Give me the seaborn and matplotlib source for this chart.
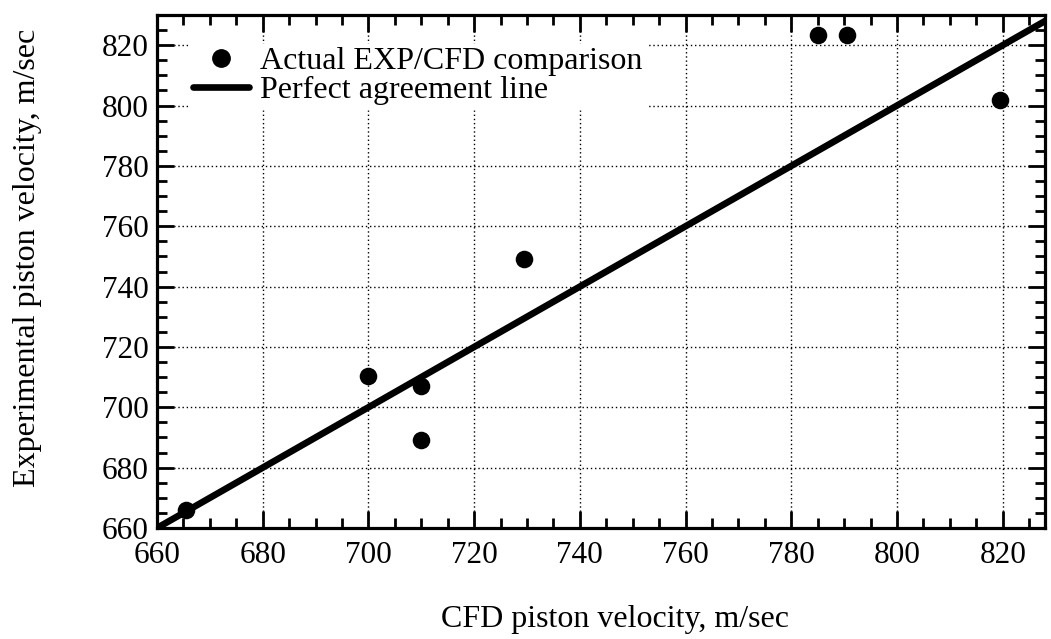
import matplotlib
matplotlib.use("Agg")
import matplotlib.pyplot as plt
import seaborn as sns
import pandas as pd
from matplotlib.ticker import MultipleLocator
from matplotlib.lines import Line2D

cfd_velocity = [665.5, 700.0, 710.0, 710.0, 729.5, 785.0, 790.5, 819.5]
exp_velocity = [666.0, 710.5, 707.0, 689.0, 749.0, 823.5, 823.5, 802.0]
line_x = [660, 830]
line_y = [660, 830]
ticks = [660, 680, 700, 720, 740, 760, 780, 800, 820]

sns.set_theme(style="white")
plt.rcParams['font.family'] = ['Liberation Serif', 'DejaVu Serif']
plt.rcParams['text.color'] = 'black'

fig = plt.figure(figsize=(10.51, 6.39), dpi=100)
ax = fig.add_axes([0.1494, 0.1737, 0.8449, 0.8028])

df_pts = pd.DataFrame({"cfd": cfd_velocity, "exp": exp_velocity})
df_line = pd.DataFrame({"x": line_x, "y": line_y})

sns.lineplot(data=df_line, x="x", y="y", ax=ax, color="black", linewidth=4.8, zorder=3)
sns.scatterplot(data=df_pts, x="cfd", y="exp", ax=ax, color="black", s=160,
                edgecolor="black", linewidth=0, zorder=4)

ax.set_xlim(660, 828)
ax.set_ylim(660, 830)
ax.set_xticks(ticks)
ax.set_yticks(ticks)
ax.xaxis.set_minor_locator(MultipleLocator(5))
ax.yaxis.set_minor_locator(MultipleLocator(5))
ax.grid(True, which="major", linestyle=(0, (1, 2)), color="black", linewidth=1.0)
ax.set_axisbelow(True)

ax.tick_params(which="both", direction="in", top=True, right=True, bottom=True, left=True,
               color="black", width=2)
ax.tick_params(which="major", length=12, labelsize=22.5, labelcolor="black")
ax.tick_params(axis="x", which="major", pad=9)
ax.tick_params(axis="y", which="major", pad=6)
ax.tick_params(which="minor", length=7)
for s in ax.spines.values():
    s.set_color("black")
    s.set_linewidth(2.3)

ax.set_xlabel("CFD piston velocity, m/sec", fontsize=23, color="black")
ax.set_ylabel("Experimental piston velocity, m/sec", fontsize=23, color="black")
ax.xaxis.set_label_coords(0.516, -0.150)
ax.yaxis.set_label_coords(-0.130, 0.526)

handles = [
    Line2D([0], [0], marker="o", color="none", markerfacecolor="black",
           markeredgecolor="black", markersize=12.5),
    Line2D([0], [0], color="black", linewidth=4.8),
]
leg = ax.legend(handles, ["Actual EXP/CFD comparison", "Perfect agreement line"],
                loc="center left", bbox_to_anchor=(0.037, 0.881), frameon=True,
                fontsize=23, handlelength=1.75, handletextpad=0.35, labelspacing=0.0,
                borderpad=0.1, borderaxespad=0.0)
for t in leg.get_texts():
    t.set_color("black")
leg.get_frame().set_facecolor("white")
leg.get_frame().set_edgecolor("white")
leg.get_frame().set_alpha(1.0)
leg.get_frame().set_boxstyle("square", pad=0)

fig.savefig("out.png", dpi=100)
